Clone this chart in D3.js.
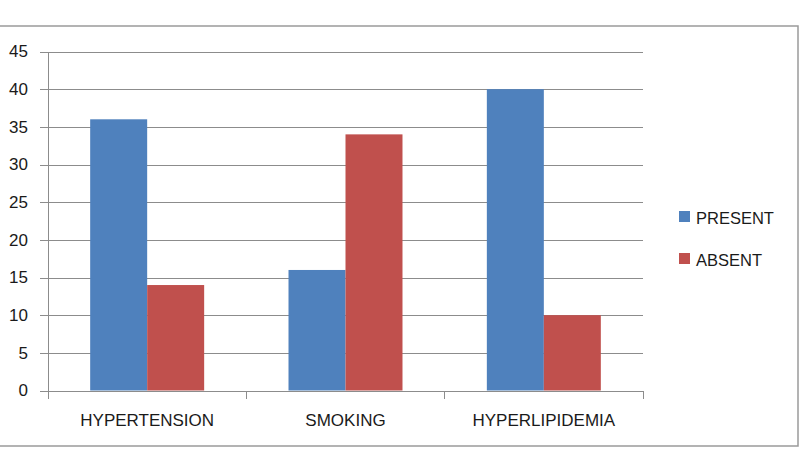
<!DOCTYPE html>
<html><head><meta charset="utf-8">
<script src="https://cdn.jsdelivr.net/npm/d3@7"></script>
<style>body{margin:0;background:#fff}svg{display:block}text{font-family:"Liberation Sans",Arial,sans-serif;fill:#1a1a1a}</style>
</head><body><svg id="c" width="802" height="450"></svg>
<script>
const categories = ["HYPERTENSION", "SMOKING", "HYPERLIPIDEMIA"];
const seriesNames = ["PRESENT", "ABSENT"];
const presentValues = [36, 16, 40];
const absentValues = [14, 34, 10];
const yTicks = [0, 5, 10, 15, 20, 25, 30, 35, 40, 45];
const colors = ["#4F81BD", "#C0504D"];

const svg = d3.select("#c");
// outer frame
svg.append("rect").attr("x", -2).attr("y", 26).attr("width", 800).attr("height", 420)
  .attr("fill", "#fff").attr("stroke", "#9a9a9a").attr("stroke-width", 1.5);

const plotL = 48, plotR = 643, plotT = 51.5, plotB = 390.5;
const y = d3.scaleLinear().domain([0, 45]).range([plotB, plotT]);
const x0 = d3.scaleBand().domain(categories).range([plotL, plotR]).padding(0);
const x1 = d3.scaleBand().domain(seriesNames).range([0, x0.bandwidth()]).paddingInner(0).paddingOuter(0.74);

// gridlines + y axis ticks
const yAxis = d3.axisLeft(y).tickValues(yTicks).tickSize(plotR - 40).tickPadding(12);
const gy = svg.append("g").attr("transform", `translate(${plotR},0)`).call(yAxis);
gy.select(".domain").remove();
gy.selectAll(".tick line").attr("stroke", "#8c8c8c").attr("shape-rendering", "crispEdges");
gy.selectAll(".tick text").attr("x", -(plotR - 28)).attr("text-anchor", "end")
  .style("font-size", "17px").style("font-family", '"Liberation Sans",Arial,sans-serif').attr("fill", "#1a1a1a");

// bars
const data = categories.map((c, i) => ({cat: c, vals: [presentValues[i], absentValues[i]]}));
const groups = svg.append("g").selectAll("g").data(data).join("g")
  .attr("transform", d => `translate(${x0(d.cat)},0)`);
groups.selectAll("rect").data(d => d.vals.map((v, j) => ({s: seriesNames[j], v, j})))
  .join("rect")
  .attr("x", d => x1(d.s)).attr("width", x1.bandwidth())
  .attr("y", d => y(d.v)).attr("height", d => y(0) - y(d.v))
  .attr("fill", d => colors[d.j]);

// y axis line
svg.append("line").attr("x1", plotL).attr("x2", plotL).attr("y1", plotT).attr("y2", plotB)
  .attr("stroke", "#8c8c8c").attr("shape-rendering", "crispEdges");

// x axis
const xAxis = d3.axisBottom(x0).tickSize(0).tickPadding(23);
const gx = svg.append("g").attr("transform", `translate(0,${plotB})`).call(xAxis);
gx.select(".domain").attr("stroke", "#8c8c8c").attr("shape-rendering", "crispEdges");
gx.selectAll(".tick text").style("font-size", "17px").style("font-family", '"Liberation Sans",Arial,sans-serif').attr("fill", "#1a1a1a");
// boundary tick marks
const bounds = [plotL].concat(categories.map(c => x0(c) + x0.bandwidth()));
svg.append("g").selectAll("line").data(bounds).join("line")
  .attr("x1", d => d).attr("x2", d => d).attr("y1", plotB).attr("y2", plotB + 8)
  .attr("stroke", "#8c8c8c").attr("shape-rendering", "crispEdges");

// legend
const lg = svg.append("g").attr("transform", "translate(679,211)");
seriesNames.forEach((s, i) => {
  const g = lg.append("g").attr("transform", `translate(0,${i * 42})`);
  g.append("rect").attr("width", 11).attr("height", 11).attr("fill", colors[i]);
  g.append("text").attr("x", 17).attr("y", 12.5).style("font-size", "16.5px").text(s);
});
</script></body></html>
